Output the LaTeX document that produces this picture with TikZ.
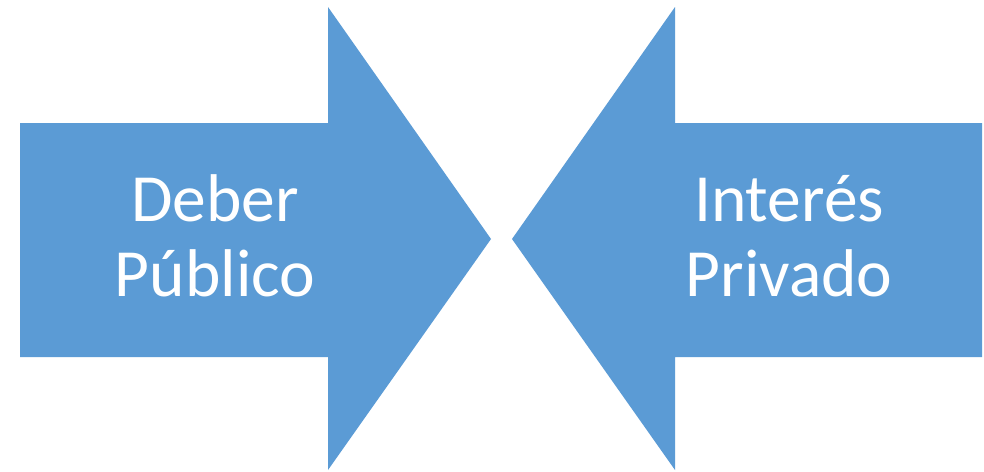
\documentclass[tikz,border=0pt]{standalone}
\usepackage{fontspec}
\setmainfont{Carlito}
\definecolor{arrowblue}{HTML}{5B9BD5}
\begin{document}
\begin{tikzpicture}[x=1pt,y=-1pt,
  arrowshape/.style={fill=arrowblue,draw=none},
  label/.style={text=white,align=center,font=\fontsize{67.5}{75}\selectfont,inner sep=0pt}]
\useasboundingbox (0,0) rectangle (984,471);
\fill[white] (0,0) rectangle (984,471);
\path[arrowshape] (20,123) -- (328,123) -- (328,7) -- (491,239) -- (328,470) -- (328,357) -- (20,357) -- cycle;
\path[arrowshape] (982,123) -- (675,123) -- (675,7) -- (512,239) -- (675,470) -- (675,357) -- (982,357) -- cycle;
\node[label] (left) at (215,236) {Deber\\Público};
\node[label] (right) at (789,236) {Interés\\Privado};
\end{tikzpicture}
\end{document}
